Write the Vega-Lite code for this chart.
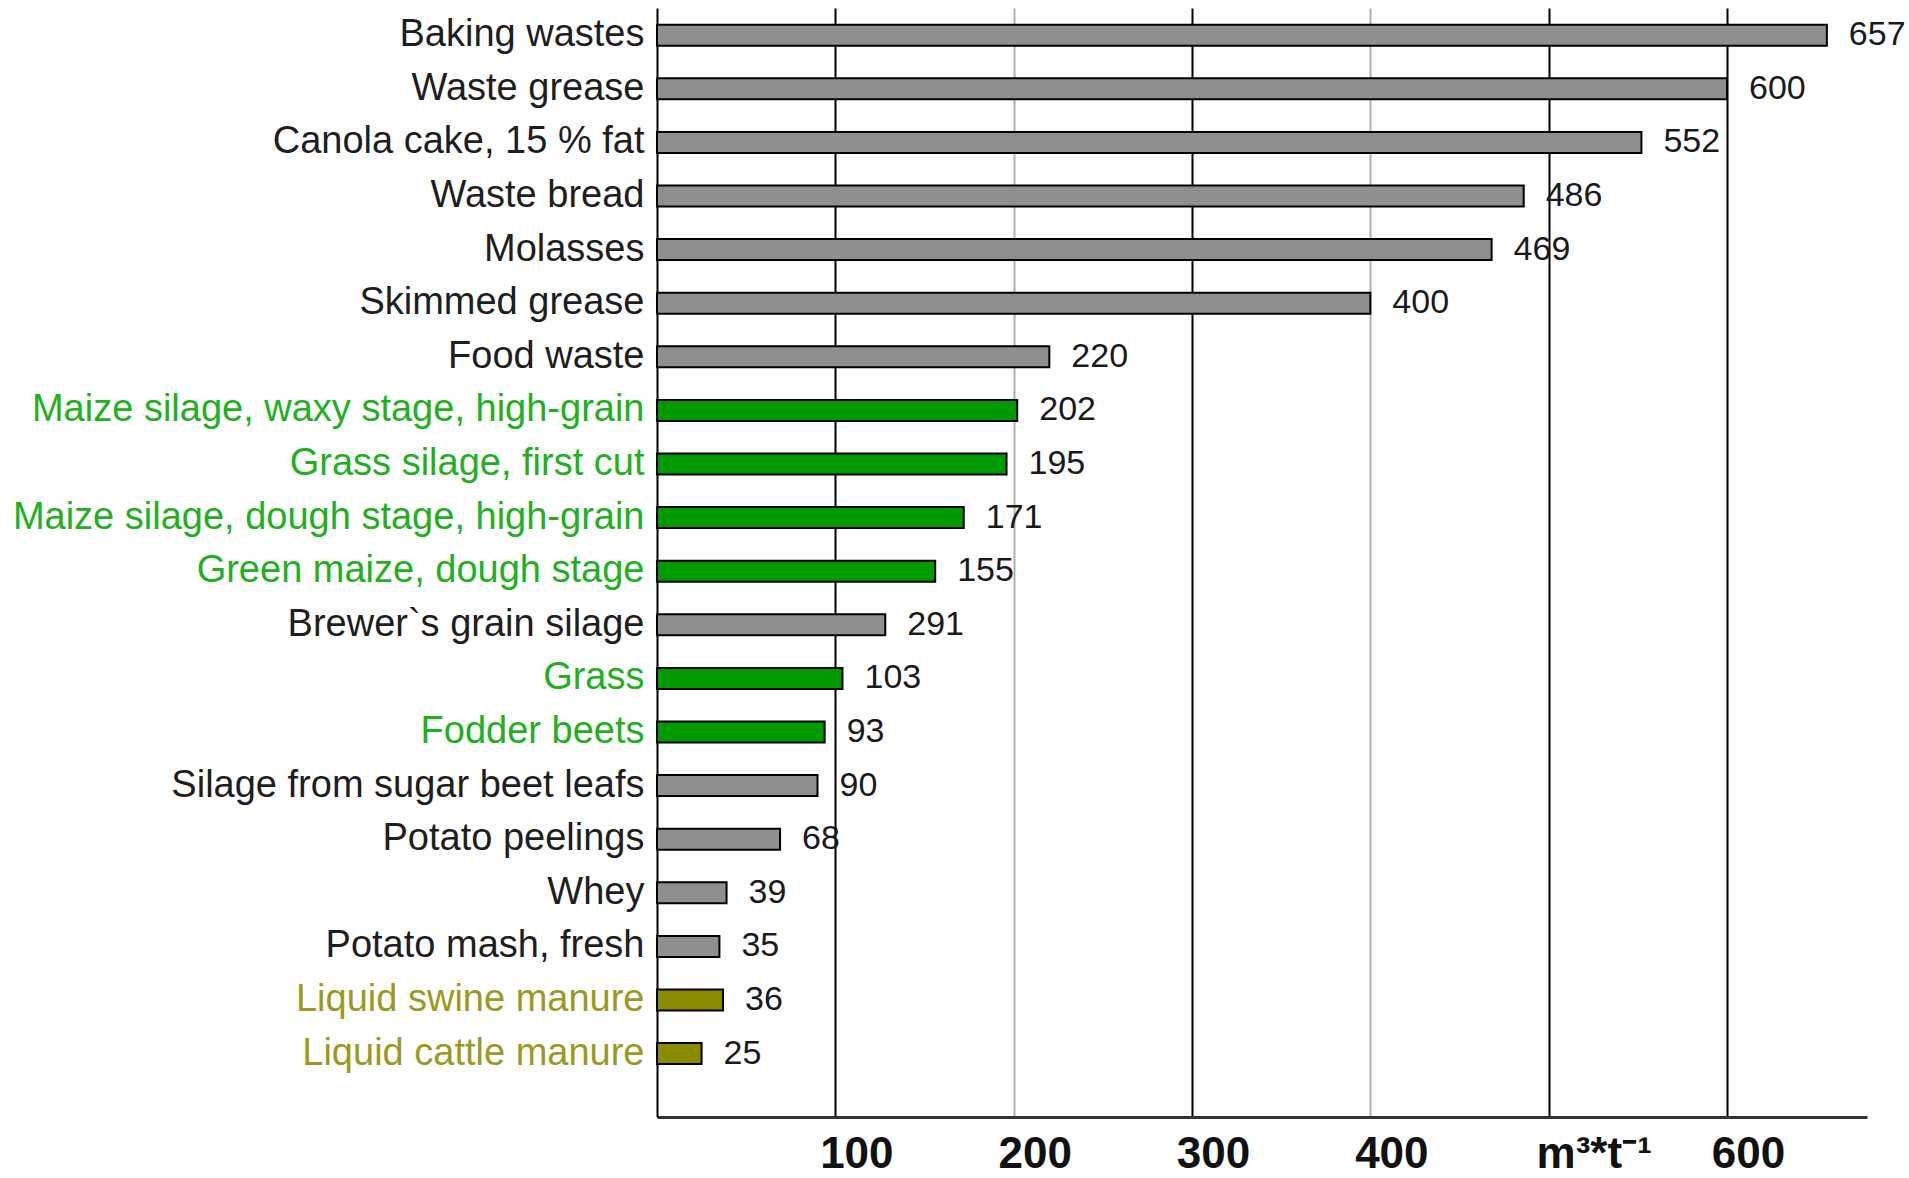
{
  "$schema": "https://vega.github.io/schema/vega-lite/v6.json",
  "autosize": "none",
  "width": 1210,
  "height": 1109,
  "padding": {"left": 657, "top": 8, "right": 42, "bottom": 61},
  "background": "white",
  "config": {"view": {"stroke": null}},
  "data": {
    "values": [
      {"item": "Baking wastes", "value": 656, "label": "657", "group": "other"},
      {"item": "Waste grease", "value": 600, "label": "600", "group": "other"},
      {"item": "Canola cake, 15 % fat", "value": 552, "label": "552", "group": "other"},
      {"item": "Waste bread", "value": 486, "label": "486", "group": "other"},
      {"item": "Molasses", "value": 468, "label": "469", "group": "other"},
      {"item": "Skimmed grease", "value": 400, "label": "400", "group": "other"},
      {"item": "Food waste", "value": 220, "label": "220", "group": "other"},
      {"item": "Maize silage, waxy stage, high-grain", "value": 202, "label": "202", "group": "crop"},
      {"item": "Grass silage, first cut", "value": 196, "label": "195", "group": "crop"},
      {"item": "Maize silage, dough stage, high-grain", "value": 172, "label": "171", "group": "crop"},
      {"item": "Green maize, dough stage", "value": 156, "label": "155", "group": "crop"},
      {"item": "Brewer`s grain silage", "value": 128, "label": "291", "group": "other"},
      {"item": "Grass", "value": 104, "label": "103", "group": "crop"},
      {"item": "Fodder beets", "value": 94, "label": "93", "group": "crop"},
      {"item": "Silage from sugar beet leafs", "value": 90, "label": "90", "group": "other"},
      {"item": "Potato peelings", "value": 69, "label": "68", "group": "other"},
      {"item": "Whey", "value": 39, "label": "39", "group": "other"},
      {"item": "Potato mash, fresh", "value": 35, "label": "35", "group": "other"},
      {"item": "Liquid swine manure", "value": 37, "label": "36", "group": "manure"},
      {"item": "Liquid cattle manure", "value": 25, "label": "25", "group": "manure"}
    ]
  },
  "encoding": {
    "y": {
      "field": "item",
      "type": "nominal",
      "sort": null,
      "title": null,
      "scale": {"paddingInner": 0.608, "paddingOuter": 0.649, "align": 0.24},
      "axis": {
        "ticks": false,
        "grid": false,
        "domainColor": "#000000",
        "domainWidth": 2,
        "labelFont": "Liberation Sans, Arial, sans-serif",
        "labelFontSize": 38,
        "labelPadding": 13,
        "labelLimit": 900,
        "labelColor": {
          "condition": [
            {"test": "indexof(['Maize silage, waxy stage, high-grain','Grass silage, first cut','Maize silage, dough stage, high-grain','Green maize, dough stage','Grass','Fodder beets'], datum.value) >= 0", "value": "#22b022"},
            {"test": "indexof(['Liquid swine manure','Liquid cattle manure'], datum.value) >= 0", "value": "#9a9a22"}
          ],
          "value": "#1e1e1e"
        }
      }
    },
    "x": {
      "field": "value",
      "type": "quantitative",
      "title": null,
      "scale": {"domain": [0, 678.5], "nice": false, "zero": true},
      "axis": {
        "values": [100, 200, 300, 400, 500, 600],
        "ticks": false,
        "tickSize": 0,
        "grid": true,
        "gridColor": {"condition": {"test": "datum.value == 200 || datum.value == 400", "value": "#b0b0b0"}, "value": "#000000"},
        "gridWidth": 2,
        "gridOpacity": 1,
        "domainColor": "#333333",
        "domainWidth": 3,
        "labelFont": "Liberation Sans, Arial, sans-serif",
        "labelFontSize": 44,
        "labelFontWeight": "bold",
        "labelColor": "#111111",
        "labelPadding": 15,
        "labelOffset": {"condition": {"test": "datum.value == 500", "value": 45}, "value": 21},
        "labelExpr": "datum.value == 500 ? 'm³*t⁻¹' : datum.label"
      }
    }
  },
  "layer": [
    {
      "mark": {"type": "bar", "stroke": "#000000", "strokeWidth": 2},
      "encoding": {
        "color": {
          "field": "group",
          "type": "nominal",
          "legend": null,
          "scale": {"domain": ["other", "crop", "manure"], "range": ["#8f8f8f", "#009a00", "#8b8b00"]}
        }
      }
    },
    {
      "mark": {"type": "text", "align": "left", "baseline": "middle", "dx": 22, "fontSize": 34, "font": "Liberation Sans, Arial, sans-serif", "color": "#1a1a1a"},
      "encoding": {
        "text": {"field": "label", "type": "nominal"}
      }
    }
  ]
}
